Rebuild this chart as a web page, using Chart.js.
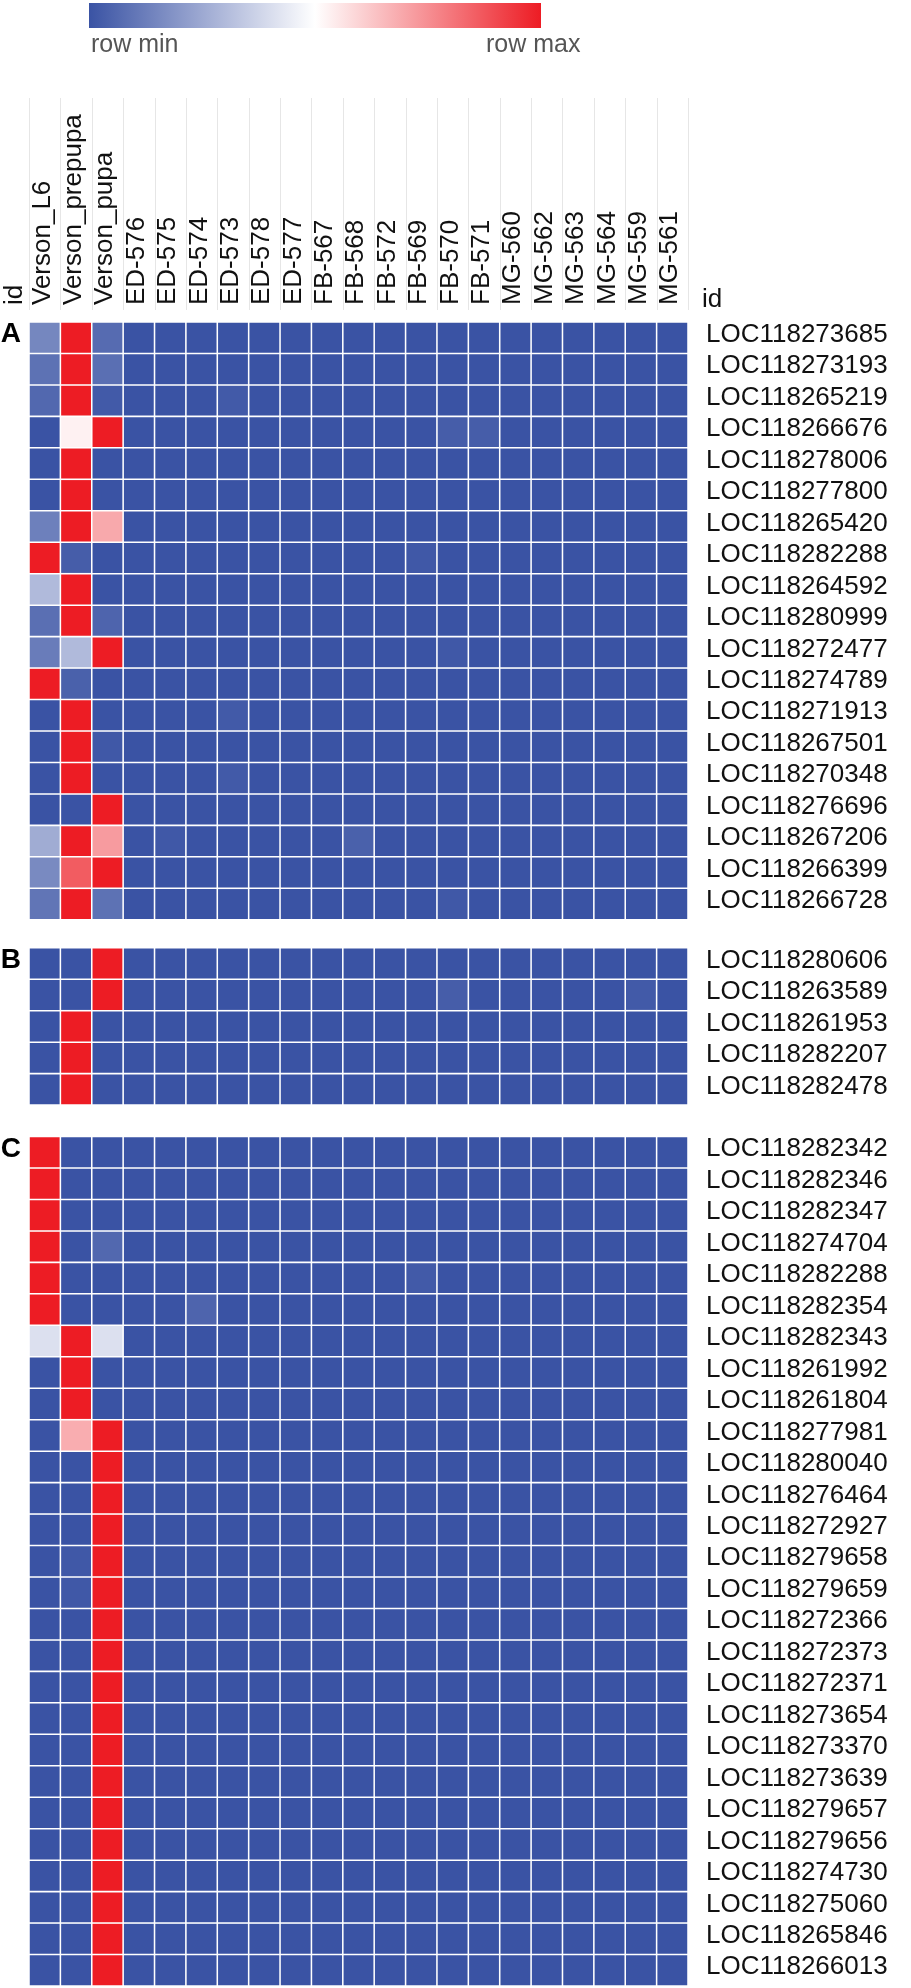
<!DOCTYPE html>
<html>
<head>
<meta charset="utf-8">
<title>Heatmap</title>
<script src="https://cdn.jsdelivr.net/npm/chart.js@4.4.1/dist/chart.umd.min.js"></script>
<style>
  html, body { margin: 0; padding: 0; background: #fff; }
  #wrap { position: relative; width: 911px; height: 1988px; }
</style>
</head>
<body>
<div id="wrap"><canvas id="heatmap" width="911" height="1988"></canvas></div>
<script>
// sample columns
const columns = [
  "Verson_L6", "Verson_prepupa", "Verson_pupa",
  "ED-576", "ED-575", "ED-574", "ED-573", "ED-578", "ED-577",
  "FB-567", "FB-568", "FB-572", "FB-569", "FB-570", "FB-571",
  "MG-560", "MG-562", "MG-563", "MG-564", "MG-559", "MG-561",
];

// row-normalised expression (0 = row min, 1 = row max)
const genesA = [
  "LOC118273685", "LOC118273193", "LOC118265219", "LOC118266676", "LOC118278006",
  "LOC118277800", "LOC118265420", "LOC118282288", "LOC118264592", "LOC118280999",
  "LOC118272477", "LOC118274789", "LOC118271913", "LOC118267501", "LOC118270348",
  "LOC118276696", "LOC118267206", "LOC118266399", "LOC118266728",
];
const valuesA = [
  [0.15, 1, 0.07, 0, 0, 0, 0, 0, 0, 0, 0, 0, 0, 0, 0, 0, 0, 0, 0, 0, 0],
  [0.09, 1, 0.08, 0, 0, 0, 0, 0, 0, 0, 0, 0, 0, 0, 0, 0, 0, 0, 0, 0, 0],
  [0.06, 1, 0.02, 0, 0, 0, 0.02, 0, 0, 0, 0, 0, 0, 0, 0, 0, 0, 0, 0, 0, 0],
  [0, 0.53, 1, 0, 0, 0, 0, 0, 0, 0, 0, 0, 0, 0.03, 0.03, 0, 0, 0, 0, 0, 0],
  [0, 1, 0, 0, 0, 0, 0, 0, 0, 0, 0, 0, 0, 0, 0, 0, 0, 0, 0, 0, 0],
  [0, 1, 0, 0, 0, 0, 0, 0, 0, 0, 0, 0, 0, 0, 0, 0, 0, 0, 0, 0, 0],
  [0.13, 1, 0.69, 0, 0, 0, 0, 0, 0, 0, 0, 0, 0, 0, 0, 0, 0, 0, 0, 0, 0],
  [1, 0.03, 0, 0, 0, 0, 0, 0, 0, 0, 0, 0, 0.015, 0, 0, 0, 0, 0, 0, 0, 0],
  [0.3, 1, 0, 0, 0, 0, 0, 0, 0, 0, 0, 0, 0, 0, 0, 0, 0, 0, 0, 0, 0],
  [0.08, 1, 0.05, 0, 0, 0, 0, 0, 0, 0, 0, 0, 0, 0, 0, 0, 0, 0, 0, 0, 0],
  [0.12, 0.3, 1, 0, 0, 0, 0, 0, 0, 0, 0, 0, 0, 0.015, 0, 0, 0, 0, 0, 0, 0],
  [1, 0.04, 0, 0, 0, 0, 0, 0, 0, 0, 0, 0, 0, 0, 0, 0, 0, 0, 0, 0, 0],
  [0, 1, 0, 0, 0, 0, 0.02, 0, 0, 0, 0, 0, 0, 0, 0, 0, 0, 0, 0, 0, 0],
  [0, 1, 0.015, 0, 0, 0, 0, 0, 0, 0, 0, 0, 0, 0, 0, 0, 0, 0, 0, 0, 0],
  [0, 1, 0, 0, 0, 0, 0.02, 0, 0, 0, 0, 0, 0, 0, 0, 0, 0, 0, 0, 0, 0],
  [0, 0, 1, 0, 0, 0, 0, 0, 0, 0, 0, 0, 0, 0, 0, 0, 0, 0, 0, 0, 0],
  [0.26, 1, 0.72, 0, 0.015, 0, 0, 0, 0, 0, 0.04, 0, 0, 0, 0, 0, 0, 0, 0, 0, 0],
  [0.16, 0.86, 1, 0, 0, 0, 0, 0, 0, 0, 0, 0, 0, 0, 0, 0, 0, 0, 0, 0, 0],
  [0.1, 1, 0.09, 0, 0, 0, 0, 0, 0, 0, 0, 0, 0, 0.015, 0, 0, 0, 0, 0, 0, 0],
];

const genesB = ["LOC118280606", "LOC118263589", "LOC118261953", "LOC118282207", "LOC118282478"];
const valuesB = [
  [0, 0, 1, 0, 0, 0, 0, 0, 0, 0, 0, 0, 0, 0, 0, 0, 0, 0, 0, 0, 0],
  [0, 0, 1, 0, 0, 0, 0, 0, 0, 0, 0, 0, 0, 0.03, 0, 0, 0, 0, 0, 0.02, 0],
  [0, 1, 0, 0, 0, 0, 0, 0, 0, 0, 0, 0, 0, 0, 0, 0, 0, 0, 0, 0, 0],
  [0, 1, 0, 0, 0, 0, 0, 0, 0, 0, 0, 0, 0, 0, 0, 0, 0, 0, 0, 0, 0],
  [0, 1, 0, 0, 0, 0, 0, 0, 0, 0, 0, 0, 0, 0, 0, 0, 0, 0, 0, 0, 0],
];

const genesC = [
  "LOC118282342", "LOC118282346", "LOC118282347", "LOC118274704", "LOC118282288",
  "LOC118282354", "LOC118282343", "LOC118261992", "LOC118261804", "LOC118277981",
  "LOC118280040", "LOC118276464", "LOC118272927", "LOC118279658", "LOC118279659",
  "LOC118272366", "LOC118272373", "LOC118272371", "LOC118273654", "LOC118273370",
  "LOC118273639", "LOC118279657", "LOC118279656", "LOC118274730", "LOC118275060",
  "LOC118265846", "LOC118266013",
];
const valuesC = [
  [1, 0, 0, 0, 0, 0, 0, 0, 0, 0, 0, 0, 0, 0, 0, 0, 0, 0, 0, 0, 0],
  [1, 0, 0, 0, 0, 0, 0, 0, 0, 0, 0, 0, 0, 0, 0, 0, 0, 0, 0, 0, 0],
  [1, 0, 0, 0, 0, 0, 0, 0, 0, 0, 0, 0, 0, 0, 0, 0, 0, 0, 0, 0, 0],
  [1, 0, 0.06, 0, 0, 0, 0, 0, 0, 0, 0, 0, 0, 0, 0, 0, 0, 0, 0, 0, 0],
  [1, 0, 0, 0, 0, 0, 0, 0, 0, 0, 0, 0, 0.02, 0, 0, 0, 0, 0, 0, 0, 0],
  [1, 0, 0, 0, 0, 0.05, 0, 0, 0, 0, 0, 0, 0, 0, 0, 0, 0, 0, 0, 0, 0],
  [0.41, 1, 0.41, 0, 0, 0, 0, 0, 0, 0, 0, 0, 0, 0, 0, 0, 0, 0, 0, 0, 0],
  [0, 1, 0, 0, 0, 0, 0, 0, 0, 0, 0, 0, 0, 0, 0, 0, 0, 0, 0, 0, 0],
  [0, 1, 0, 0, 0, 0, 0, 0, 0, 0, 0, 0, 0, 0, 0, 0, 0, 0, 0, 0, 0],
  [0, 0.68, 1, 0, 0, 0, 0, 0, 0, 0, 0, 0, 0, 0, 0, 0, 0, 0, 0, 0, 0],
  [0, 0, 1, 0, 0, 0, 0, 0, 0, 0, 0, 0, 0, 0, 0, 0, 0, 0, 0, 0, 0],
  [0, 0, 1, 0, 0, 0, 0, 0, 0, 0, 0, 0, 0, 0, 0, 0, 0, 0, 0, 0, 0],
  [0, 0, 1, 0, 0, 0, 0, 0, 0, 0, 0, 0, 0, 0, 0, 0, 0, 0, 0, 0, 0],
  [0, 0.015, 1, 0, 0, 0, 0, 0, 0, 0, 0, 0, 0, 0, 0, 0, 0, 0, 0, 0, 0],
  [0, 0.015, 1, 0, 0, 0, 0, 0, 0, 0, 0, 0, 0, 0, 0, 0, 0, 0, 0, 0, 0],
  [0, 0, 1, 0, 0, 0, 0, 0, 0, 0, 0, 0, 0, 0, 0, 0, 0, 0, 0, 0, 0],
  [0, 0, 1, 0, 0, 0, 0, 0, 0, 0, 0, 0, 0, 0, 0, 0, 0, 0, 0, 0, 0],
  [0, 0, 1, 0, 0, 0, 0, 0, 0, 0, 0, 0, 0, 0, 0, 0, 0, 0, 0, 0, 0],
  [0, 0, 1, 0, 0, 0, 0, 0, 0, 0, 0, 0, 0, 0, 0, 0, 0, 0, 0, 0, 0],
  [0, 0, 1, 0, 0, 0, 0, 0, 0, 0, 0, 0, 0, 0, 0, 0, 0, 0, 0, 0, 0],
  [0, 0, 1, 0, 0, 0, 0, 0, 0, 0, 0, 0, 0, 0, 0, 0, 0, 0, 0, 0, 0],
  [0, 0, 1, 0, 0, 0, 0, 0, 0, 0, 0, 0, 0, 0, 0, 0, 0, 0, 0, 0, 0],
  [0, 0, 1, 0, 0, 0, 0, 0, 0, 0, 0, 0, 0, 0, 0, 0, 0, 0, 0, 0, 0],
  [0, 0, 1, 0, 0, 0, 0, 0, 0, 0, 0, 0, 0, 0, 0, 0, 0, 0, 0, 0, 0],
  [0, 0, 1, 0, 0, 0, 0, 0, 0, 0, 0, 0, 0, 0, 0, 0, 0, 0, 0, 0, 0],
  [0, 0, 1, 0, 0, 0, 0, 0, 0, 0, 0, 0, 0, 0, 0, 0, 0, 0, 0, 0, 0],
  [0, 0, 1, 0, 0, 0, 0, 0, 0, 0, 0, 0, 0, 0, 0, 0, 0, 0, 0, 0, 0],
];

const sectionLetters = ["A", "B", "C"];
const legendLabels = ["row min", "row max"];

// layout
const FONT = "'Liberation Sans', Arial, Helvetica, sans-serif";
const GAPS = [0, 0.89, 1.0]; // blank space (in rows) before each section
const BLUE = [58, 83, 164];
const WHITE = [255, 255, 255];
const RED = [237, 28, 36];

function heatColor(t) {
  const lo = t < 0.5 ? BLUE : WHITE;
  const hi = t < 0.5 ? WHITE : RED;
  const s = t < 0.5 ? t / 0.5 : (t - 0.5) / 0.5;
  const c = lo.map((v, i) => Math.round(v + (hi[i] - v) * s));
  return `rgb(${c[0]}, ${c[1]}, ${c[2]})`;
}

// stack the three blocks top to bottom
const sections = [
  { letter: sectionLetters[0], genes: genesA, values: valuesA },
  { letter: sectionLetters[1], genes: genesB, values: valuesB },
  { letter: sectionLetters[2], genes: genesC, values: valuesC },
];

const rows = [];
const sectionStarts = [];
let cursor = 0;
sections.forEach((sec, s) => {
  cursor += GAPS[s];
  sectionStarts.push({ value: cursor + 0.5, label: sec.letter });
  sec.genes.forEach((gene, i) => {
    rows.push({ gene, start: cursor, values: sec.values[i] });
    cursor += 1;
  });
});
const totalRows = cursor;

const datasets = rows.map((row) => ({
  label: row.gene,
  data: columns.map(() => [row.start, row.start + 1]),
  backgroundColor: row.values.map(heatColor),
  borderColor: "#ffffff",
  borderWidth: 1.1,
  borderSkipped: false,
  grouped: false,
  barPercentage: 1,
  categoryPercentage: 1,
  yAxisID: "y",
}));

// keep the axes from adding their own label overhang to the chart area
function fixSize(size) {
  return (scale) => {
    if (scale.isHorizontal()) scale.height = size;
    else scale.width = size;
    scale.paddingTop = 0;
    scale.paddingBottom = 0;
    scale.paddingLeft = 0;
    scale.paddingRight = 0;
  };
}

const headerPlugin = {
  id: "header",
  beforeDraw(chart) {
    const { ctx, scales } = chart;
    const x = scales.x;
    ctx.save();

    // faint column separators behind the sample names
    ctx.strokeStyle = "#e6e6e6";
    ctx.lineWidth = 1;
    for (let i = 0; i <= columns.length; i++) {
      const px = Math.round(x.getPixelForValue(i - 0.5)) + 0.5;
      ctx.beginPath();
      ctx.moveTo(px, 98);
      ctx.lineTo(px, 310);
      ctx.stroke();
    }

    // colour key
    const gx0 = 89, gx1 = 541;
    const grad = ctx.createLinearGradient(gx0, 0, gx1, 0);
    [0, 0.25, 0.5, 0.75, 1].forEach((t) => grad.addColorStop(t, heatColor(t)));
    ctx.fillStyle = grad;
    ctx.fillRect(gx0, 3, gx1 - gx0, 25);

    ctx.fillStyle = "#555555";
    ctx.font = `25px ${FONT}`;
    ctx.textBaseline = "middle";
    ctx.textAlign = "left";
    ctx.fillText(legendLabels[0], 91, 45);
    ctx.fillText(legendLabels[1], 486, 45);

    // "id" headers
    ctx.fillStyle = "#111111";
    ctx.font = `26px ${FONT}`;
    ctx.textBaseline = "alphabetic";
    ctx.fillText("id", 702, 307);
    ctx.translate(22, 305);
    ctx.rotate(-Math.PI / 2);
    ctx.fillText("id", 0, 0);
    ctx.restore();
  },
};

new Chart(document.getElementById("heatmap"), {
  type: "bar",
  data: { labels: columns, datasets },
  plugins: [headerPlugin],
  options: {
    responsive: false,
    animation: false,
    events: [],
    layout: { padding: { top: 0, left: 0, right: 0, bottom: 2 } },
    plugins: {
      legend: { display: false },
      tooltip: { enabled: false },
    },
    scales: {
      x: {
        position: "top",
        offset: true,
        grid: { display: false, drawTicks: false },
        border: { display: false },
        ticks: {
          autoSkip: false,
          minRotation: 90,
          maxRotation: 90,
          padding: 17,
          labelOffset: 29,
          color: "#111111",
          font: { family: FONT, size: 26 },
        },
        afterFit: fixSize(322),
      },
      y: {
        position: "right",
        min: 0,
        max: totalRows,
        reverse: true,
        grid: { display: false, drawTicks: false },
        border: { display: false },
        afterBuildTicks: (scale) => {
          scale.ticks = rows.map((r) => ({ value: r.start + 0.5 }));
        },
        ticks: {
          autoSkip: false,
          padding: 18,
          labelOffset: -3,
          color: "#111111",
          font: { family: FONT, size: 26 },
          callback: (value, index) => rows[index].gene,
        },
        afterFit: fixSize(223),
      },
      yLetters: {
        position: "left",
        min: 0,
        max: totalRows,
        reverse: true,
        grid: { display: false, drawTicks: false },
        border: { display: false },
        afterBuildTicks: (scale) => {
          scale.ticks = sectionStarts.map((s) => ({ value: s.value }));
        },
        ticks: {
          autoSkip: false,
          padding: 8,
          labelOffset: -3,
          color: "#000000",
          font: { family: FONT, size: 28, weight: "bold" },
          callback: (value, index) => sectionStarts[index].label,
        },
        afterFit: fixSize(29),
      },
    },
  },
});
</script>
</body>
</html>
